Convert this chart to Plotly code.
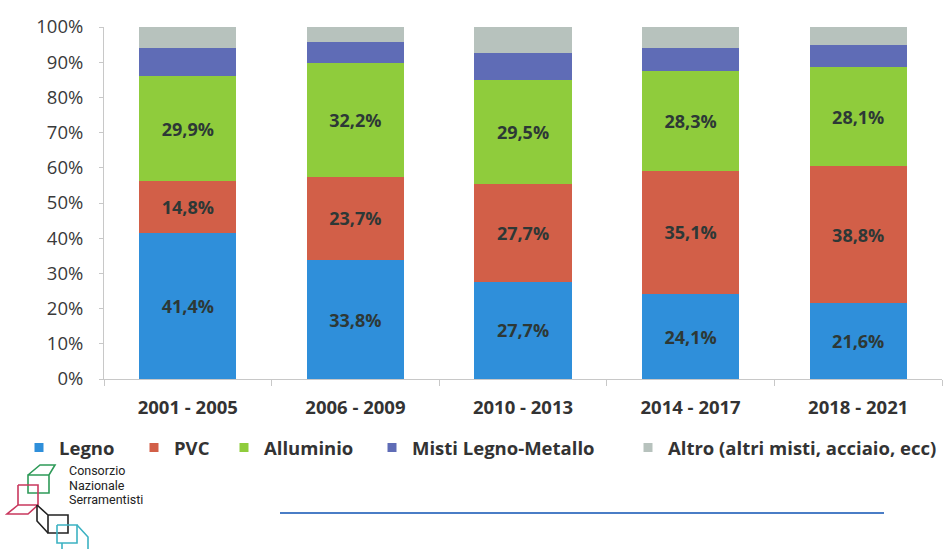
import plotly.graph_objects as go

categories = ["2001 - 2005", "2006 - 2009", "2010 - 2013", "2014 - 2017", "2018 - 2021"]
legno = [41.4, 33.8, 27.7, 24.1, 21.6]
pvc = [14.8, 23.7, 27.7, 35.1, 38.8]
alluminio = [29.9, 32.2, 29.5, 28.3, 28.1]
misti = [8.0, 6.1, 7.6, 6.6, 6.4]
altro = [5.9, 4.2, 7.5, 5.9, 5.1]
series_names = ["Legno", "PVC", "Alluminio", "Misti Legno-Metallo", "Altro (altri misti, acciaio, ecc)"]
y_ticks = [0, 10, 20, 30, 40, 50, 60, 70, 80, 90, 100]

colors = ["#2f8fda", "#d25f48", "#8fcc3c", "#5f6cb6", "#b7c2bd"]
series = [legno, pvc, alluminio, misti, altro]
labelled = [True, True, True, False, False]

W, H = 943, 549
L, R, T, B = 104, 1, 27, 170
PW, PH = W - L - R, H - T - B
FONT = "Open Sans"


def px(x):
    return (x - L) / PW


def py(y):
    return (H - B - y) / PH


def fmt(v):
    return f"{v:.1f}".replace(".", ",") + "%"


fig = go.Figure()
legend_left_px = [19, 134, 224, 372, 628]
for i, (name, vals) in enumerate(zip(series_names, series)):
    fig.add_trace(go.Bar(
        x=categories, y=vals, name=name,
        marker=dict(color=colors[i], line=dict(width=0)),
        text=[fmt(v) for v in vals] if labelled[i] else None,
        textposition="inside" if labelled[i] else "none",
        insidetextanchor="middle",
        textangle=0,
        textfont=dict(family=FONT, size=18, color="#2d3836", weight=700),
        showlegend=False,
        hoverinfo="skip",
    ))
    lg = "legend" if i == 0 else f"legend{i + 1}"
    fig.add_trace(go.Scatter(
        x=[None], y=[None], mode="markers", name=name,
        marker=dict(symbol="square", size=9, color=colors[i]),
        legend=lg, showlegend=True,
    ))

legend_common = dict(
    orientation="h", xanchor="left", yanchor="middle", y=py(448),
    font=dict(family=FONT, size=18.5, color="#333333", weight=700),
    bgcolor="rgba(0,0,0,0)", borderwidth=0, itemclick=False, itemdoubleclick=False,
)
layout_legends = {}
for i in range(5):
    key = "legend" if i == 0 else f"legend{i + 1}"
    layout_legends[key] = dict(legend_common, x=px(legend_left_px[i]))

shapes = []
lw = 1.6
def seg(pts, color):
    d = "M " + " L ".join(f"{px(x)},{py(y)}" for x, y in pts)
    shapes.append(dict(type="path", path=d, xref="paper", yref="paper",
                       line=dict(color=color, width=lw)))

green, red, black, cyan = "#2e9a58", "#c9385e", "#222222", "#3cb2c2"
seg([(28, 475), (40, 465), (55, 465), (49, 475), (28, 475), (28, 493), (49, 493), (49, 475)], green)
seg([(18, 485), (38, 485), (38, 505), (18, 505), (18, 485)], red)
seg([(18, 505), (7, 514), (28, 514), (38, 505)], red)
seg([(37, 505), (48, 515), (68, 515), (68, 533), (48, 533), (48, 515)], black)
seg([(37, 505), (37, 521), (48, 533)], black)
seg([(57, 525), (77, 525), (77, 543), (57, 543), (57, 525)], cyan)
seg([(77, 525), (88, 537), (88, 549)], cyan)
seg([(62, 543), (62, 549)], cyan)
# blue rule
shapes.append(dict(type="line", xref="paper", yref="paper",
                   x0=px(280), x1=px(884), y0=py(513), y1=py(513),
                   line=dict(color="#4a7dc6", width=2)))

annotations = []
for txt, yy in [("Consorzio", 471), ("Nazionale", 485), ("Serramentisti", 499)]:
    annotations.append(dict(text=txt, x=px(67), y=py(yy), xref="paper", yref="paper",
                            xanchor="left", yanchor="middle", showarrow=False,
                            font=dict(family="Roboto", size=12.5, color="#222222")))

fig.update_layout(
    width=W, height=H,
    margin=dict(l=L, r=R, t=T, b=B, pad=0),
    barmode="stack", bargap=0.42,
    paper_bgcolor="white", plot_bgcolor="white",
    shapes=shapes, annotations=annotations,
    **layout_legends,
)
fig.update_xaxes(
    type="category", showgrid=False, showline=True, linecolor="#c8c8c8", linewidth=1,
    ticks="outside", tickson="boundaries", ticklen=6, tickcolor="#c8c8c8",
    tickfont=dict(family=FONT, size=18.5, color="#333333", weight=700),
    ticklabelstandoff=12, zeroline=False,
)
fig.update_yaxes(
    range=[0, 100], tickvals=y_ticks, ticktext=[f"{v}%" for v in y_ticks],
    showgrid=False, showline=True, linecolor="#c8c8c8", linewidth=1,
    ticks="outside", ticklen=4, tickcolor="#c8c8c8",
    tickfont=dict(family=FONT, size=18.5, color="#3a3a3a"),
    ticklabelstandoff=12, zeroline=False,
)

fig.write_html("out.html", config={"displayModeBar": False})

# remove the default page margin so the figure sits at the window's origin
with open("out.html", "r", encoding="utf-8") as f:
    html = f.read()
html = html.replace("<head>", "<head><style>html,body{margin:0;padding:0;overflow:hidden;}</style>", 1)
with open("out.html", "w", encoding="utf-8") as f:
    f.write(html)
